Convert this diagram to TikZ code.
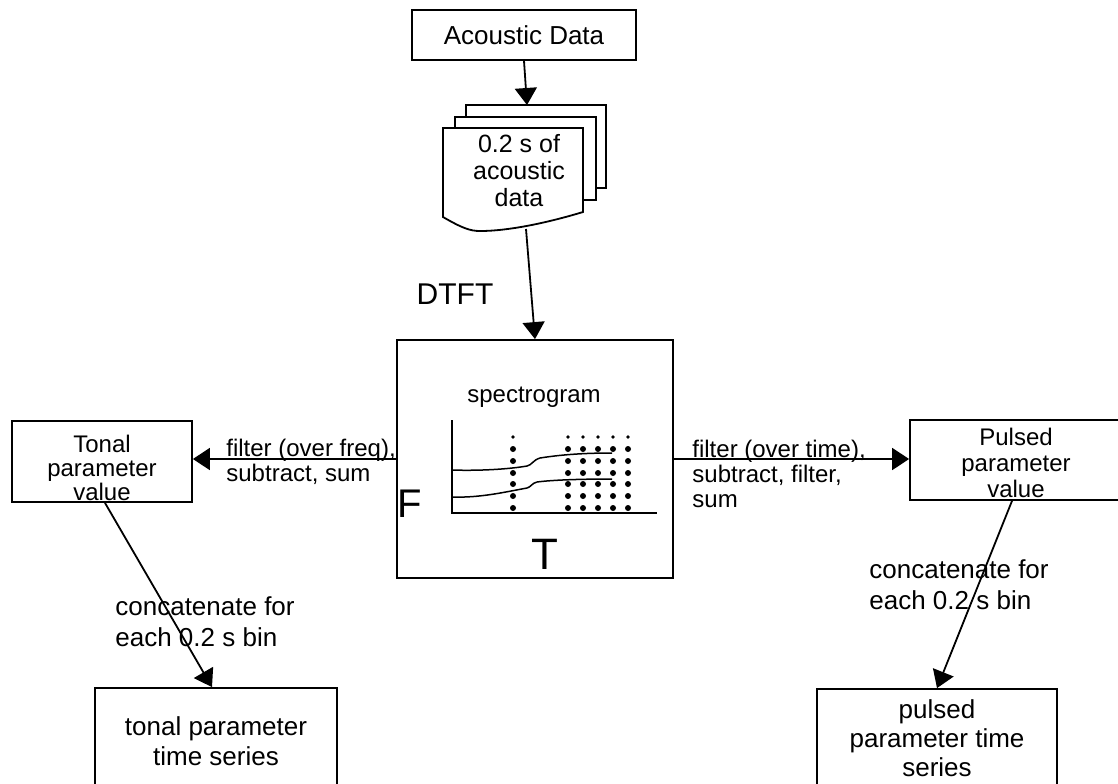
\documentclass[tikz,border=0pt]{standalone}
\usepackage{fontspec}
\setmainfont{Liberation Sans}
\usetikzlibrary{arrows.meta,positioning}
\tikzset{plain box/.style={rectangle,draw,line width=0.9pt,inner sep=0pt,fill=white},
	page/.style={draw,line width=0.9pt,fill=white},
	box text/.style={align=center,inner sep=0pt,font=\fontsize{12}{12}\selectfont},
	side text/.style={anchor=west,align=left,inner sep=0pt,font=\fontsize{12}{12.5}\selectfont},
	flow/.style={line width=0.9pt,-{Triangle[length=8.5pt,width=11pt]}}}

\begin{document}
\begin{tikzpicture}[x=0.5pt,y=-0.5pt]
	\useasboundingbox (0,0) rectangle (1118,783);
	
	\node (acoustic)	[plain box,minimum width=112pt,minimum height=25pt,font=\fontsize{13}{13}\selectfont] at (524,35) {Acoustic Data};
	
	% stack of data slices
	\draw [page] (466,105) rectangle (606,188);
	\draw [page] (455,117) rectangle (596,200);
	\draw [page] (443,128) -- (583,128) -- (583,212) .. controls (550,222) and (510,231) .. (480,231) .. controls (470,231) and (462,228) .. (443,217) -- cycle;
	\node (slice)		[box text,font=\fontsize{12.5}{13.5}\selectfont] at (519,171) {0.2 s of\\acoustic\\data};
	\coordinate (stacktop)	at (527,105);
	\coordinate (slicebot)	at (526,229);
	
	\node (spectro)		[plain box,minimum width=138pt,minimum height=119pt] at (535,459) {};
	\node (dtft)		[font=\fontsize{15}{15}\selectfont] at (455,294) {DTFT};
	\node (spectitle)	[font=\fontsize{12}{12}\selectfont] at (534,397) {spectrogram};
	\node (faxis)		[font=\fontsize{20}{20}\selectfont] at (410,504) {F};
	\node (taxis)		[font=\fontsize{22}{22}\selectfont] at (545,554) {T};
	
	\node (tonal)		[plain box,minimum width=90pt,minimum height=40.5pt] at (102,461.5) {};
	\node (tonaltext)	[box text] at (102,468) {Tonal\\parameter\\value};
	\node (pulsed)		[plain box,minimum width=106pt,minimum height=40pt] at (1016,460) {};
	\node (pulsedtext)	[box text,font=\fontsize{12}{13}\selectfont] at (1016,463) {Pulsed\\parameter\\value};
	
	\node (tonalseries)	[plain box,box text,minimum width=121pt,minimum height=53pt,font=\fontsize{13}{15}\selectfont] at (216,741) {tonal parameter\\time series};
	\node (pulsedseries)	[plain box,box text,minimum width=120pt,minimum height=49pt,font=\fontsize{13}{14.5}\selectfont] at (937,738) {pulsed\\parameter time\\series};
	
	\node (freqlabel)	[side text] at (226,462) {filter (over freq),\\subtract, sum};
	\node (timelabel)	[side text] at (692,474) {filter (over time),\\subtract, filter,\\sum};
	\node (tonalcat)	[side text,font=\fontsize{13}{15.5}\selectfont] at (115,622) {concatenate for\\each 0.2 s bin};
	\node (pulsedcat)	[side text,font=\fontsize{13}{15.5}\selectfont] at (869,585) {concatenate for\\each 0.2 s bin};
	
	% spectrogram sketch
	\coordinate (origin)	at (452,513);
	\draw [line width=0.8pt] (452,420) -- (origin) -- (657,513);
	\foreach \x in {513,568,583,598,613,628} {
		\fill (\x,437) circle (0.9pt);
		\foreach \y in {449,461,473,484,496,508}
			\fill (\x,\y) circle (1.5pt);
	}
	\draw [line width=0.75pt] (origin |- 0,470) .. controls (480,471) and (510,469) .. (527,466) .. controls (532,465) and (533,460) .. (540,458) .. controls (565,454) and (590,453) .. (612,453);
	\draw [line width=0.75pt] (origin |- 0,497) .. controls (480,498) and (505,492) .. (527,488) .. controls (531,487) and (532,483) .. (537,482) .. controls (552,480) and (580,479) .. (612,479);
	
	\draw [flow] (acoustic.south) -- (stacktop);
	\draw [flow] (slicebot) -- (spectro.north);
	\draw [flow] (spectro.west) -- (spectro.west -| tonal.east);
	\draw [flow] (spectro.east) -- (spectro.east -| pulsed.west);
	\draw [flow] ([xshift=1.5pt]tonal.south) -- ([xshift=-2pt]tonalseries.north);
	\draw [flow] ([xshift=-2pt]pulsed.south) -- (pulsedseries.north);
\end{tikzpicture}
\end{document}
